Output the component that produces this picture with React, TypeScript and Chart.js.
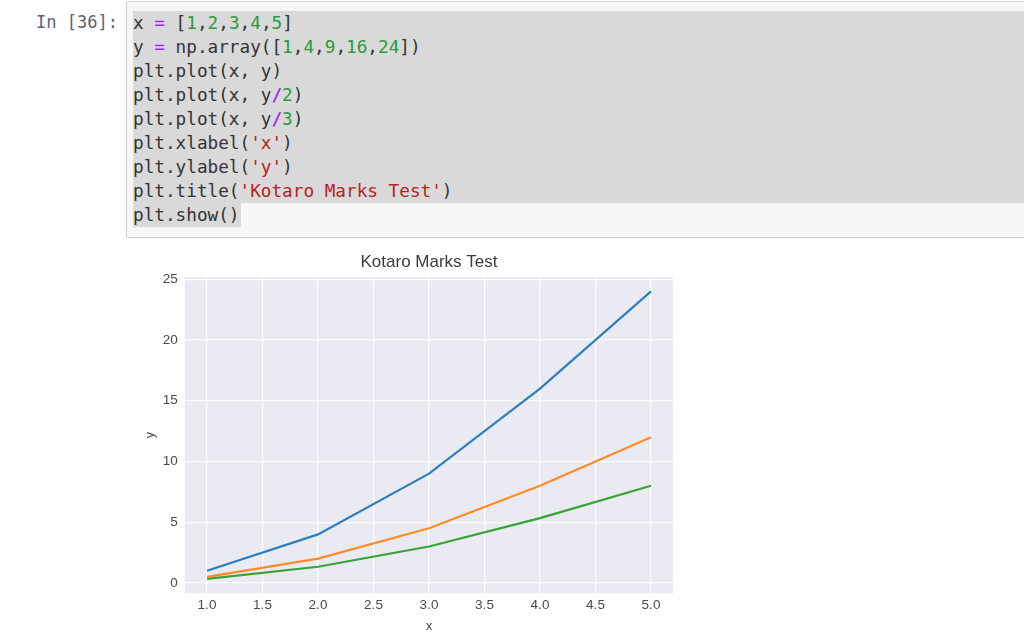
import React, { useEffect, useRef } from "react";
import { Chart, registerables } from "chart.js";

Chart.register(...registerables);

// ---- data ----
const X_VALUES = [1, 2, 3, 4, 5];
const Y_FULL = [1, 4, 9, 16, 24];
const Y_HALF = [0.5, 2, 4.5, 8, 12];
const Y_THIRD = [0.3333, 1.3333, 3, 5.3333, 8];
const SERIES_NAMES = ["y", "y/2", "y/3"];
const SERIES_COLORS = ["#2e7fbd", "#ff8a26", "#36a336"];
const X_TICKS = [1.0, 1.5, 2.0, 2.5, 3.0, 3.5, 4.0, 4.5, 5.0];
const Y_TICKS = [0, 5, 10, 15, 20, 25];
const TITLE = "Kotaro Marks Test";
const X_LABEL = "x";
const Y_LABEL = "y";

// code cell tokens: [text, kind]
type Tok = [string, string];
const CODE_LINES: Tok[][] = [
  [["x ", "t"], ["=", "op"], [" [", "t"], ["1", "n"], [",", "t"], ["2", "n"], [",", "t"], ["3", "n"], [",", "t"], ["4", "n"], [",", "t"], ["5", "n"], ["]", "t"]],
  [["y ", "t"], ["=", "op"], [" np.array([", "t"], ["1", "n"], [",", "t"], ["4", "n"], [",", "t"], ["9", "n"], [",", "t"], ["16", "n"], [",", "t"], ["24", "n"], ["])", "t"]],
  [["plt.plot(x, y)", "t"]],
  [["plt.plot(x, y", "t"], ["/", "opb"], ["2", "n"], [")", "t"]],
  [["plt.plot(x, y", "t"], ["/", "opb"], ["3", "n"], [")", "t"]],
  [["plt.xlabel(", "t"], ["'x'", "s"], [")", "t"]],
  [["plt.ylabel(", "t"], ["'y'", "s"], [")", "t"]],
  [["plt.title(", "t"], ["'Kotaro Marks Test'", "s"], [")", "t"]],
  [["plt.show()", "t"]],
];

const TOK_STYLE: Record<string, React.CSSProperties> = {
  t: { color: "#333" },
  op: { color: "#aa22ff" },
  opb: { color: "#aa22ff", fontWeight: "bold" },
  n: { color: "#2a9a3a" },
  s: { color: "#ba2121" },
};

const MONO = "'DejaVu Sans Mono', 'Liberation Mono', monospace";
const SANS = "'Liberation Sans', Arial, 'DejaVu Sans', sans-serif";

function withMargin(vals: number[]) {
  const lo = Math.min(...vals);
  const hi = Math.max(...vals);
  const m = (hi - lo) * 0.05;
  return { min: lo - m, max: hi + m };
}

const plotBg = {
  id: "plotBg",
  beforeDraw(chart: any) {
    const { ctx, chartArea } = chart;
    if (!chartArea) return;
    ctx.save();
    ctx.fillStyle = "#eaeaf2";
    ctx.fillRect(chartArea.left, chartArea.top, chartArea.right - chartArea.left, chartArea.bottom - chartArea.top);
    ctx.restore();
  },
};

function ChartView() {
  const ref = useRef<HTMLCanvasElement | null>(null);
  useEffect(() => {
    if (!ref.current) return;
    const xr = withMargin(X_VALUES);
    const yr = withMargin([...Y_FULL, ...Y_HALF, ...Y_THIRD]);
    const seriesData = [Y_FULL, Y_HALF, Y_THIRD];
    const chart = new Chart(ref.current, {
      type: "line",
      data: {
        datasets: seriesData.map((ys, i) => ({
          label: SERIES_NAMES[i],
          data: X_VALUES.map((x, j) => ({ x, y: ys[j] })),
          borderColor: SERIES_COLORS[i],
          backgroundColor: SERIES_COLORS[i],
          borderWidth: 2.2,
          pointRadius: 0,
          tension: 0,
          fill: false,
        })),
      },
      options: {
        animation: false,
        responsive: false,
        maintainAspectRatio: false,
        events: [],
        layout: { padding: { left: 0, right: 16.8, top: 0, bottom: 0 } },
        plugins: {
          legend: { display: false },
          tooltip: { enabled: false },
          title: {
            display: true,
            text: TITLE,
            fullSize: false,
            color: "#3a3a3a",
            font: { family: SANS, size: 17, weight: "normal" },
            padding: { top: 7.5, bottom: 4.1 },
          },
        },
        scales: {
          x: {
            type: "linear",
            min: xr.min,
            max: xr.max,
            afterBuildTicks: (axis: any) => {
              axis.ticks = X_TICKS.map((v) => ({ value: v }));
            },
            afterFit: (s: any) => {
              s.height = 40.7;
            },
            grid: { color: "#ffffff", lineWidth: 1.2, drawTicks: false },
            border: { display: false },
            ticks: {
              color: "#4a4a4a",
              font: { family: SANS, size: 13.5 },
              padding: 4,
              maxRotation: 0,
              autoSkip: false,
              callback: (v: any) => Number(v).toFixed(1),
            },
            title: {
              display: true,
              text: X_LABEL,
              color: "#4a4a4a",
              font: { family: SANS, size: 12.5 },
              padding: { top: 4, bottom: 0 },
            },
          },
          y: {
            type: "linear",
            min: yr.min,
            max: yr.max,
            afterBuildTicks: (axis: any) => {
              axis.ticks = Y_TICKS.map((v) => ({ value: v }));
            },
            afterFit: (s: any) => {
              s.width = 54.8;
            },
            grid: { color: "#ffffff", lineWidth: 1.2, drawTicks: false },
            border: { display: false },
            ticks: {
              color: "#4a4a4a",
              font: { family: SANS, size: 13.5 },
              padding: 7,
              autoSkip: false,
              callback: (v: any) => String(Math.round(Number(v))),
            },
            title: {
              display: true,
              text: Y_LABEL,
              color: "#4a4a4a",
              font: { family: SANS, size: 12.5 },
              padding: { top: 13, bottom: 0 },
            },
          },
        },
      },
      plugins: [plotBg],
    } as any);
    return () => chart.destroy();
  }, []);
  return (
    <canvas
      ref={ref}
      width={560}
      height={389}
      style={{ position: "absolute", left: 130, top: 245, width: 560, height: 389 }}
    />
  );
}

export default function App() {
  return (
    <div
      style={{
        position: "fixed",
        left: 0,
        top: 0,
        width: 1024,
        height: 634,
        overflow: "hidden",
        background: "#ffffff",
      }}
    >
      {/* prompt */}
      <div
        style={{
          position: "absolute",
          right: 1024 - 118,
          top: 10,
          height: 24,
          lineHeight: "24px",
          fontFamily: MONO,
          fontSize: 17,
          color: "#5a6276",
          whiteSpace: "pre",
        }}
      >
        In [36]:
      </div>
      {/* cell box */}
      <div
        style={{
          position: "absolute",
          left: 126,
          top: 1,
          width: 960,
          height: 235,
          background: "#f7f7f7",
          border: "1px solid #cfcfcf",
          borderRadius: 2,
        }}
      />
      {/* selection highlight */}
      <div style={{ position: "absolute", left: 133, top: 11, width: 900, height: 192, background: "#d9d9d9" }} />
      <div style={{ position: "absolute", left: 133, top: 203, width: 108, height: 24, background: "#d9d9d9" }} />
      {/* code */}
      {CODE_LINES.map((line, i) => (
        <div
          key={i}
          style={{
            position: "absolute",
            left: 133,
            top: 11 + 24 * i,
            height: 24,
            lineHeight: "24px",
            fontFamily: MONO,
            fontSize: 17.7,
            whiteSpace: "pre",
          }}
        >
          {line.map(([txt, kind], j) => (
            <span key={j} style={TOK_STYLE[kind]}>
              {txt}
            </span>
          ))}
        </div>
      ))}
      <ChartView />
    </div>
  );
}
